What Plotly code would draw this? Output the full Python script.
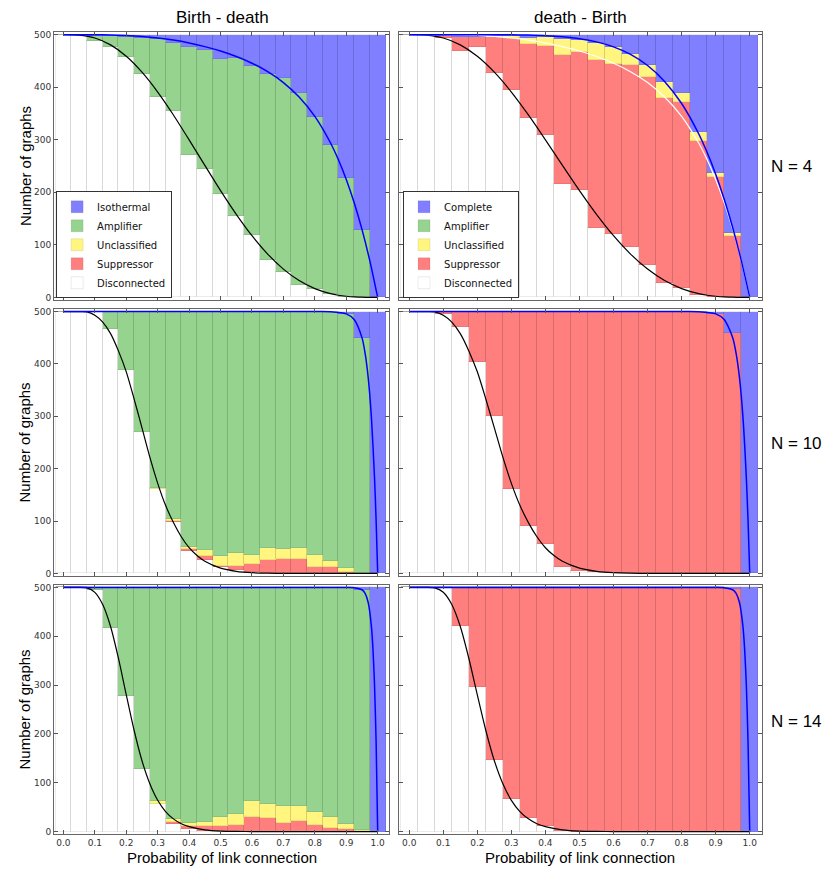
import plotly.graph_objects as go
from plotly.subplots import make_subplots

# bin centres (probability of link connection)
p_bins = [0.0, 0.05, 0.1, 0.15, 0.2, 0.25, 0.3, 0.35, 0.4, 0.45, 0.5,
          0.55, 0.6, 0.65, 0.7, 0.75, 0.8, 0.85, 0.9, 0.95, 1.0]

# --- N = 4, Birth - death ---
bd4_disc = [500, 499, 487, 477, 457, 425, 382, 354, 270, 244, 196, 155, 118, 71, 49, 23, 15, 6, 1, 0, 0]
bd4_supp = [0] * 21
bd4_uncl = [0] * 21
bd4_amp = [0, 1, 11, 21, 39, 69, 109, 130, 207, 226, 258, 301, 323, 354, 369, 365, 328, 284, 227, 128, 0]
bd4_iso = [0, 0, 2, 2, 4, 6, 9, 16, 23, 30, 46, 44, 59, 75, 82, 112, 157, 210, 272, 372, 500]

# --- N = 4, death - Birth ---
db4_disc = [500, 500, 494, 469, 476, 427, 394, 342, 309, 215, 205, 132, 120, 95, 61, 28, 18, 4, 1, 0, 0]
db4_supp = [0, 0, 4, 27, 20, 69, 100, 141, 169, 246, 262, 319, 325, 347, 359, 351, 353, 293, 229, 116, 0]
db4_uncl = [0, 0, 0, 0, 0, 1, 3, 10, 17, 30, 22, 34, 31, 21, 22, 31, 17, 17, 7, 6, 0]
db4_amp = [0] * 21
db4_comp = [0, 0, 2, 4, 4, 3, 3, 7, 5, 9, 11, 15, 24, 37, 58, 90, 112, 186, 263, 378, 500]

# --- N = 10, Birth - death ---
bd10_disc = [500, 500, 500, 466, 389, 271, 162, 99, 42, 26, 12, 7, 2, 1, 0, 0, 0, 0, 0, 0, 0]
bd10_supp = [0, 0, 0, 0, 0, 0, 0, 2, 5, 7, 3, 8, 16, 25, 27, 27, 13, 12, 3, 0, 0]
bd10_uncl = [0, 0, 0, 0, 0, 0, 2, 2, 3, 11, 18, 23, 18, 22, 19, 22, 22, 11, 7, 0, 0]
bd10_amp = [0, 0, 0, 34, 111, 229, 336, 397, 450, 456, 467, 462, 464, 452, 454, 451, 465, 477, 486, 449, 0]
bd10_iso = [0, 0, 0, 0, 0, 0, 0, 0, 0, 0, 0, 0, 0, 0, 0, 0, 0, 0, 4, 51, 500]

# --- N = 10, death - Birth ---
db10_disc = [500, 500, 495, 470, 404, 300, 161, 90, 56, 13, 5, 2, 1, 0, 0, 0, 0, 0, 0, 0, 0]
db10_supp = [0, 0, 5, 30, 96, 200, 339, 410, 444, 487, 495, 498, 499, 500, 500, 500, 500, 500, 495, 460, 0]
db10_uncl = [0] * 21
db10_amp = [0] * 21
db10_comp = [0, 0, 0, 0, 0, 0, 0, 0, 0, 0, 0, 0, 0, 0, 0, 0, 0, 0, 5, 40, 500]

# --- N = 14, Birth - death ---
bd14_disc = [500, 500, 495, 416, 277, 128, 57, 16, 5, 2, 1, 0, 0, 0, 0, 0, 0, 0, 0, 0, 0]
bd14_supp = [0, 0, 0, 0, 0, 0, 0, 3, 7, 9, 10, 14, 29, 27, 18, 22, 13, 7, 5, 1, 0]
bd14_uncl = [0, 0, 0, 0, 0, 0, 5, 7, 5, 9, 19, 22, 33, 30, 34, 30, 27, 22, 10, 2, 0]
bd14_amp = [0, 0, 5, 84, 223, 372, 438, 474, 483, 480, 470, 464, 438, 443, 448, 448, 460, 471, 485, 492, 0]
bd14_iso = [0, 0, 0, 0, 0, 0, 0, 0, 0, 0, 0, 0, 0, 0, 0, 0, 0, 0, 0, 5, 500]

# --- N = 14, death - Birth ---
db14_disc = [500, 500, 500, 421, 297, 147, 67, 28, 11, 1, 0, 0, 0, 0, 0, 0, 0, 0, 0, 0, 0]
db14_supp = [0, 0, 0, 79, 203, 353, 433, 472, 489, 499, 500, 500, 500, 500, 500, 500, 500, 500, 500, 496, 0]
db14_uncl = [0] * 21
db14_amp = [0] * 21
db14_comp = [0, 0, 0, 0, 0, 0, 0, 0, 0, 0, 0, 0, 0, 0, 0, 0, 0, 0, 0, 4, 500]

# --- expected curves ---
p4_curve = [0, 0.05, 0.1, 0.15, 0.2, 0.25, 0.3, 0.35, 0.4, 0.45, 0.5, 0.55, 0.6,
            0.65, 0.7, 0.75, 0.8, 0.85, 0.875, 0.9, 0.925, 0.95, 0.975, 1.0]
disc4_curve = [500, 499.1, 493.5, 480.5, 458.8, 428.5, 390.7, 347.1, 299.8, 251.1, 203.1, 158.0,
               117.3, 82.3, 53.8, 32.0, 16.7, 7.1, 4.1, 2.1, 0.8, 0.3, 0.05, 0]
iso4_curve = [500, 500, 499.9, 499.4, 498.4, 496.6, 493.7, 489.6, 484.1, 477.2, 468.8, 458.4,
              445.6, 429.5, 408.8, 381.3, 344.4, 293.8, 261.9, 224.4, 180.6, 129.4, 69.6, 0]
comp4_curve = [500, 500, 500, 500, 500, 499.9, 499.6, 499.1, 498.0, 495.8, 492.2, 486.2,
               476.7, 462.3, 441.2, 411.0, 368.9, 311.4, 275.6, 234.3, 186.8, 132.5, 70.5, 0]

p10_disc = [0, 0.05, 0.075, 0.1, 0.125, 0.15, 0.175, 0.2, 0.225, 0.25, 0.275, 0.3, 0.325,
            0.35, 0.375, 0.4, 0.425, 0.45, 0.5, 0.55, 0.6, 0.65, 0.7, 0.8, 1.0]
disc10_curve = [500, 500, 499.5, 493, 480, 458, 425, 385, 333, 278, 222, 172, 130,
                97, 70, 49, 34, 23, 10, 4, 1.3, 0.4, 0, 0, 0]
p10_comp = [0, 0.5, 0.8, 0.85, 0.9, 0.925, 0.95, 0.96, 0.97, 0.98, 0.99, 0.995, 1.0]
comp10_curve = [500, 500, 500, 499.7, 495.6, 485, 450.3, 420.3, 373, 298.5, 182, 101, 0]

p14_disc = [0, 0.05, 0.075, 0.1, 0.125, 0.15, 0.175, 0.2, 0.225, 0.25, 0.275, 0.3, 0.325,
            0.35, 0.375, 0.4, 0.45, 0.5, 0.55, 0.6, 0.8, 1.0]
disc14_curve = [500, 500, 499, 490, 465, 420, 355, 280, 207, 145, 98, 64, 41,
                26, 16, 10, 3.5, 1, 0.3, 0, 0, 0]
p14_comp = [0, 0.5, 0.9, 0.925, 0.95, 0.96, 0.97, 0.98, 0.985, 0.99, 0.995, 1.0]
comp14_curve = [500, 500, 500, 499.6, 495.3, 487.8, 468.7, 420.4, 373.6, 299.7, 183, 0]

# colours
c_blue = '#7f7fff'
c_green = '#96d38f'
c_yellow = '#fff57f'
c_red = '#ff7f7f'
edge = 'rgba(0,0,0,0.08)'

fig = make_subplots(rows=3, cols=2,
                    column_widths=[335, 363], row_heights=[268, 267, 249],
                    horizontal_spacing=10 / 708, vertical_spacing=9 / 802)

panels = [
    (1, 1, bd4_disc, bd4_supp, bd4_uncl, bd4_amp, bd4_iso, 'Isothermal', 'legend'),
    (1, 2, db4_disc, db4_supp, db4_uncl, db4_amp, db4_comp, 'Complete', 'legend2'),
    (2, 1, bd10_disc, bd10_supp, bd10_uncl, bd10_amp, bd10_iso, 'Isothermal', None),
    (2, 2, db10_disc, db10_supp, db10_uncl, db10_amp, db10_comp, 'Complete', None),
    (3, 1, bd14_disc, bd14_supp, bd14_uncl, bd14_amp, bd14_iso, 'Isothermal', None),
    (3, 2, db14_disc, db14_supp, db14_uncl, db14_amp, db14_comp, 'Complete', None),
]

for row, col, disc, supp, uncl, amp, top, top_name, leg in panels:
    series = [('Disconnected', disc, 'white'), ('Suppressor', supp, c_red),
              ('Unclassified', uncl, c_yellow), ('Amplifier', amp, c_green),
              (top_name, top, c_blue)]
    for name, vals, colr in series:
        fig.add_trace(go.Bar(x=p_bins, y=vals, width=0.05, name=name,
                             marker=dict(color=colr, line=dict(color=edge, width=1)),
                             showlegend=leg is not None, legend=leg or 'legend'),
                      row=row, col=col)


def curve(px, py, colr, w, row, col):
    fig.add_trace(go.Scatter(x=px, y=py, mode='lines', showlegend=False,
                             line=dict(color=colr, width=w, shape='spline', smoothing=0.7)),
                  row=row, col=col)


# N = 4
curve(p4_curve, disc4_curve, 'black', 1.2, 1, 1)
curve(p4_curve, iso4_curve, 'blue', 1.5, 1, 1)
curve(p4_curve, disc4_curve, 'black', 1.2, 1, 2)
curve(p4_curve, iso4_curve, 'white', 1.2, 1, 2)
curve(p4_curve, comp4_curve, 'blue', 1.5, 1, 2)
# N = 10
for c in (1, 2):
    curve(p10_disc, disc10_curve, 'black', 1.2, 2, c)
    curve(p10_comp, comp10_curve, 'blue', 1.5, 2, c)
# N = 14
for c in (1, 2):
    curve(p14_disc, disc14_curve, 'black', 1.2, 3, c)
    curve(p14_comp, comp14_curve, 'blue', 1.5, 3, c)

tick_font = dict(family='DejaVu Sans', size=9, color='#333')
fig.update_xaxes(range=[-0.03, 1.036], tickvals=[i / 10 for i in range(11)], tickformat='.1f',
                 ticks='inside', ticklen=4, tickcolor='#555', showline=True, mirror='ticks',
                 linecolor='#666', linewidth=1, showgrid=False, zeroline=False,
                 tickfont=tick_font, showticklabels=False)
fig.update_xaxes(showticklabels=True, row=3)
fig.update_yaxes(range=[-5, 505], tickvals=[0, 100, 200, 300, 400, 500],
                 ticks='inside', ticklen=4, tickcolor='#555', showline=True, mirror='ticks',
                 linecolor='#666', linewidth=1, showgrid=False, zeroline=False,
                 tickfont=tick_font, showticklabels=False)
fig.update_yaxes(showticklabels=True, col=1)

leg_style = dict(font=dict(family='DejaVu Sans', size=10, color='#111'), bgcolor='white',
                 bordercolor='#333', borderwidth=1, traceorder='reversed',
                 xanchor='left', yanchor='bottom', tracegroupgap=0, itemwidth=30)
# the page adds an 8px body margin, so the figure is drawn smaller and shifted
fig.update_layout(
    width=814, height=860, barmode='stack', bargap=0,
    plot_bgcolor='white', paper_bgcolor='white',
    margin=dict(l=46, r=60, t=24, b=34),
    legend=dict(x=0.003, y=0.668, **leg_style),
    legend2=dict(x=0.493, y=0.668, **leg_style),
)

big = dict(family='Liberation Sans, Arial', size=17, color='black')
mid = dict(family='Liberation Sans, Arial', size=15, color='black')
ann = [
    dict(text='Birth - death', x=0.2373, y=1.0175, font=big),
    dict(text='death - Birth', x=0.743, y=1.0175, font=big),
    dict(text='Probability of link connection', x=0.2373, y=-0.0287, font=mid),
    dict(text='Probability of link connection', x=0.743, y=-0.0287, font=mid),
]
for yc in (166, 442.5, 709.5):
    ann.append(dict(text='Number of graphs', x=-0.041, y=1 - (yc - 32) / 802,
                    font=mid, textangle=-90))
for a in ann:
    fig.add_annotation(xref='paper', yref='paper', showarrow=False,
                       xanchor='center', yanchor='middle', **a)
for label, yc in (('N = 4', 166), ('N = 10', 443), ('N = 14', 721)):
    fig.add_annotation(xref='paper', yref='paper', showarrow=False, text=label,
                       x=1.0099, y=1 - (yc - 32) / 802, xanchor='left', yanchor='middle',
                       font=big)

fig.write_html("out.html")
